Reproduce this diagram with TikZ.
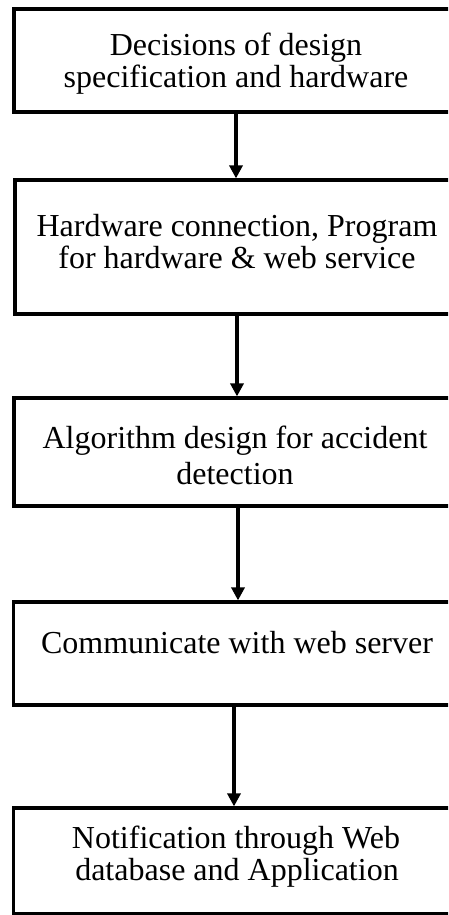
\documentclass[tikz,border=0pt]{standalone}
\usepackage{fontspec}
\setmainfont{Liberation Serif}
\usetikzlibrary{arrows.meta}

\tikzset{
  stepbox/.style={draw=black, line width=3.2pt, rectangle, inner sep=0pt,
                  minimum width=446pt},
  label/.style={anchor=base, inner sep=0pt, font=\fontsize{32}{36}\selectfont},
  flow/.style={draw=black, line width=3.4pt,
               -{Triangle[width=13pt,length=13pt]}, shorten >=0pt}
}

\begin{document}
\begin{tikzpicture}[x=1pt, y=-1pt]
  \useasboundingbox (0,0) rectangle (448,915);
  \clip (0,0) rectangle (448,915);
  \fill[white] (0,0) rectangle (448,915);

  % process boxes (the right-hand edges run past the page)
  \node[stepbox, minimum height=103pt] (b1) at (237,60.5)  {};
  \node[stepbox, minimum height=134pt] (b2) at (238,247)   {};
  \node[stepbox, minimum height=108pt] (b3) at (237,452)   {};
  \node[stepbox, minimum height=103pt] (b4) at (236.5,653.5) {};
  \node[stepbox, minimum height=106pt] (b5) at (236.5,861) {};

  % box texts
  \node[label] (t1a) at (236,56)  {Decisions of design};
  \node[label] (t1b) at (236,88)  {specification and hardware};
  \node[label] (t2a) at (237,236) {Hardware connection, Program};
  \node[label] (t2b) at (237,268) {for hardware \& web service};
  \node[label] (t3a) at (235,448) {Algorithm design for accident};
  \node[label] (t3b) at (235,484) {detection};
  \node[label] (t4a) at (237,653) {Communicate with web server};
  \node[label] (t5a) at (236,848) {Notification through Web};
  \node[label] (t5b) at (237,880) {database and Application};

  % connectors
  \draw[flow] ([xshift=-1pt]b1.south) -- ([xshift=-2pt]b2.north);
  \draw[flow] ([xshift=-1pt]b2.south) -- ([xshift=0pt]b3.north);
  \draw[flow] ([xshift=1pt]b3.south)  -- ([xshift=1.5pt]b4.north);
  \draw[flow] ([xshift=-2.5pt]b4.south) -- ([xshift=-2.5pt]b5.north);
\end{tikzpicture}
\end{document}
